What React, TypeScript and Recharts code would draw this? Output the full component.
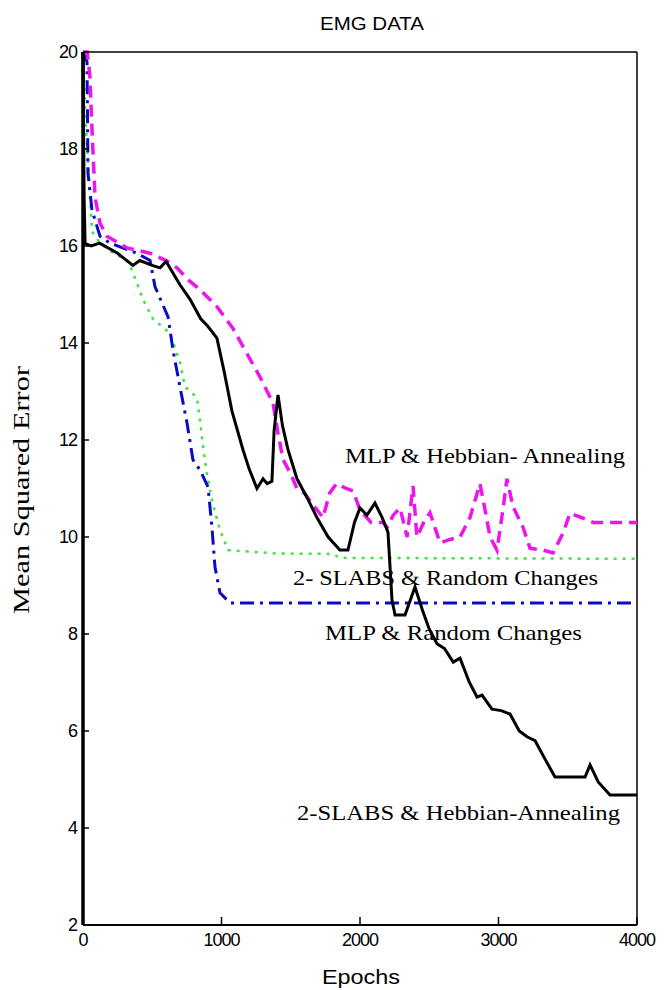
/** EMG DATA: training MSE vs epochs for four network/learning-rule combos. */

import { Line, LineChart, ReferenceLine, XAxis, YAxis } from "recharts";

// 2-SLABS & Hebbian-Annealing (solid black)
const slabsHebbEpochs = [
  0, 8, 15, 60, 120, 250, 360, 410, 500, 556, 600, 700, 773, 850, 900, 967, 1020, 1075, 1155, 1200,
  1256, 1300, 1330, 1364, 1380, 1408, 1440, 1480, 1545, 1620, 1689, 1770, 1855, 1913, 1960, 2000,
  2050, 2108, 2160, 2202, 2231, 2253, 2325, 2397, 2450, 2500, 2556, 2610, 2673, 2722, 2790, 2845,
  2881, 2953, 3020, 3083, 3150, 3206, 3264, 3340, 3408, 3625, 3661, 3720, 3805, 4000,
];
const slabsHebbMse = [
  20, 17, 16.05, 16.0, 16.06, 15.85, 15.6, 15.7, 15.6, 15.55, 15.68, 15.2, 14.9, 14.5, 14.35, 14.1,
  13.4, 12.6, 11.8, 11.4, 11.0, 11.2, 11.1, 11.15, 12.2, 12.93, 12.3, 11.8, 11.2, 10.8, 10.4, 10.0,
  9.73, 9.73, 10.3, 10.6, 10.45, 10.7, 10.4, 10.1, 8.7, 8.39, 8.39, 8.97, 8.5, 8.1, 7.8, 7.7, 7.42,
  7.5, 7.0, 6.7, 6.74, 6.45, 6.42, 6.35, 6.0, 5.88, 5.8, 5.4, 5.05, 5.05, 5.3, 4.95, 4.68, 4.68,
];

// MLP & Hebbian-Annealing (magenta dashed)
const mlpHebbEpochs = [
  0, 30, 50, 65, 87, 123, 173, 318, 484, 600, 679, 760, 845, 967, 1083, 1180, 1278, 1372, 1408,
  1444, 1500, 1545, 1600, 1650, 1733, 1780, 1830, 1900, 1950, 2000, 2080, 2166, 2195, 2240, 2289,
  2340, 2383, 2411, 2460, 2505, 2578, 2650, 2722, 2794, 2866, 2900, 2939, 2989, 3032, 3061, 3105,
  3177, 3227, 3321, 3394, 3466, 3516, 3610, 3682, 4000,
];
const mlpHebbMse = [
  20, 20, 19.5, 18.4, 17.0, 16.47, 16.2, 15.96, 15.85, 15.7, 15.55, 15.3, 15.1, 14.75, 14.3, 13.8,
  13.3, 12.76, 12.14, 11.6, 11.3, 11.0, 10.9, 10.7, 10.4, 10.9, 11.1, 11.0, 10.95, 10.56, 10.3,
  10.3, 10.2, 10.45, 10.6, 10.0, 11.05, 10.0, 10.3, 10.5, 9.88, 9.95, 10.0, 10.4, 11.1, 10.6, 10.0,
  9.73, 10.56, 11.2, 10.62, 10.2, 9.77, 9.73, 9.67, 10.08, 10.49, 10.39, 10.3, 10.3,
];

// 2-SLABS & Random Changes (green dotted)
const slabsRandEpochs = [
  0, 20, 36, 65, 123, 195, 318, 354, 433, 505, 628, 700, 736, 823, 845, 867, 895, 931, 989, 1047,
  1400, 1805, 1855, 4000,
];
const slabsRandMse = [
  20, 18.5, 17.8, 16.3, 16.06, 15.9, 15.7, 15.5, 14.9, 14.5, 14.2, 13.6, 13.1, 12.87, 12.4, 11.86,
  11.3, 10.76, 10.14, 9.73, 9.66, 9.65, 9.57, 9.55,
];

// MLP & Random Changes (blue dash-dot)
const mlpRandEpochs = [
  0, 29, 36, 65, 123, 195, 390, 484, 520, 614, 650, 700, 751, 794, 845, 903, 931, 953, 989, 1061,
  4000,
];
const mlpRandMse = [
  20, 19.8, 17.5, 16.74, 16.2, 16.06, 15.85, 15.7, 15.16, 14.54, 13.85, 13.1, 12.35, 11.59, 11.38,
  11.03, 10.2, 9.38, 8.85, 8.64, 8.64,
];

const xTicks = [0, 1000, 2000, 3000, 4000];
const yTicks = [2, 4, 6, 8, 10, 12, 14, 16, 18, 20];

const zip = (xs: number[], ys: number[]) => xs.map((x, i) => ({ x, y: ys[i] }));

const W = 666;
const H = 990;
const sans = "Liberation Sans, Arial, sans-serif";
const serif = "Liberation Serif, Times New Roman, serif";
const tickStyle = { fill: "#000", fontSize: 18, fontFamily: sans, letterSpacing: -1 };

export default function App() {
  return (
    <div style={{ position: "absolute", left: 0, top: 0, width: W, height: H, background: "#fff" }}>
      <LineChart width={W} height={H} margin={{ top: 52, right: 29, left: 0, bottom: 0 }}>
        <XAxis
          dataKey="x"
          type="number"
          domain={[0, 4000]}
          ticks={xTicks}
          interval={0}
          height={65}
          allowDuplicatedCategory={false}
          tickSize={-8}
          tickMargin={16}
          tick={tickStyle}
          axisLine={{ stroke: "#000", strokeWidth: 2 }}
          tickLine={{ stroke: "#000", strokeWidth: 1.5 }}
        />
        <YAxis
          type="number"
          domain={[2, 20]}
          ticks={yTicks}
          interval={0}
          width={83}
          tickSize={-6}
          tickMargin={12}
          tick={tickStyle}
          axisLine={{ stroke: "#000", strokeWidth: 3.5 }}
          tickLine={{ stroke: "#000", strokeWidth: 1.5 }}
        />
        <ReferenceLine y={20} stroke="#000" strokeWidth={1.5} />
        <ReferenceLine x={4000} stroke="#000" strokeWidth={1.5} />
        <Line
          data={zip(slabsRandEpochs, slabsRandMse)}
          dataKey="y"
          type="linear"
          stroke="#3ee43e"
          strokeWidth={2.5}
          strokeDasharray="3 6"
          dot={false}
          isAnimationActive={false}
        />
        <Line
          data={zip(mlpRandEpochs, mlpRandMse)}
          dataKey="y"
          type="linear"
          stroke="#0a0ac8"
          strokeWidth={3}
          strokeDasharray="14 6 3 6"
          dot={false}
          isAnimationActive={false}
        />
        <Line
          data={zip(mlpHebbEpochs, mlpHebbMse)}
          dataKey="y"
          type="linear"
          stroke="#ee14ee"
          strokeWidth={3.5}
          strokeDasharray="12 7"
          dot={false}
          isAnimationActive={false}
        />
        <Line
          data={zip(slabsHebbEpochs, slabsHebbMse)}
          dataKey="y"
          type="linear"
          stroke="#000"
          strokeWidth={3}
          dot={false}
          isAnimationActive={false}
        />
      </LineChart>
      <svg
        width={W}
        height={H}
        style={{ position: "absolute", left: 0, top: 0, pointerEvents: "none" }}
      >
        <text x={372} y={30} textAnchor="middle" fontFamily={sans} fontSize={19}
          textLength={104} lengthAdjust="spacingAndGlyphs">
          EMG DATA
        </text>
        <text
          x={0}
          y={0}
          transform="translate(29 490) rotate(-90)"
          textAnchor="middle"
          fontFamily={serif}
          fontSize={23}
          textLength={248}
          lengthAdjust="spacingAndGlyphs"
        >
          Mean Squared Error
        </text>
        <text x={361} y={984} textAnchor="middle" fontFamily={sans} fontSize={20}
          textLength={78} lengthAdjust="spacingAndGlyphs">
          Epochs
        </text>
        <text x={345} y={463} fontFamily={serif} fontSize={22} textLength={280}
          lengthAdjust="spacingAndGlyphs">
          MLP &amp; Hebbian- Annealing
        </text>
        <text x={293} y={585} fontFamily={serif} fontSize={22} textLength={305}
          lengthAdjust="spacingAndGlyphs">
          2- SLABS &amp; Random Changes
        </text>
        <text x={325} y={640} fontFamily={serif} fontSize={22} textLength={257}
          lengthAdjust="spacingAndGlyphs">
          MLP &amp; Random Changes
        </text>
        <text x={297} y={820} fontFamily={serif} fontSize={22} textLength={323}
          lengthAdjust="spacingAndGlyphs">
          2-SLABS &amp; Hebbian-Annealing
        </text>
      </svg>
    </div>
  );
}
